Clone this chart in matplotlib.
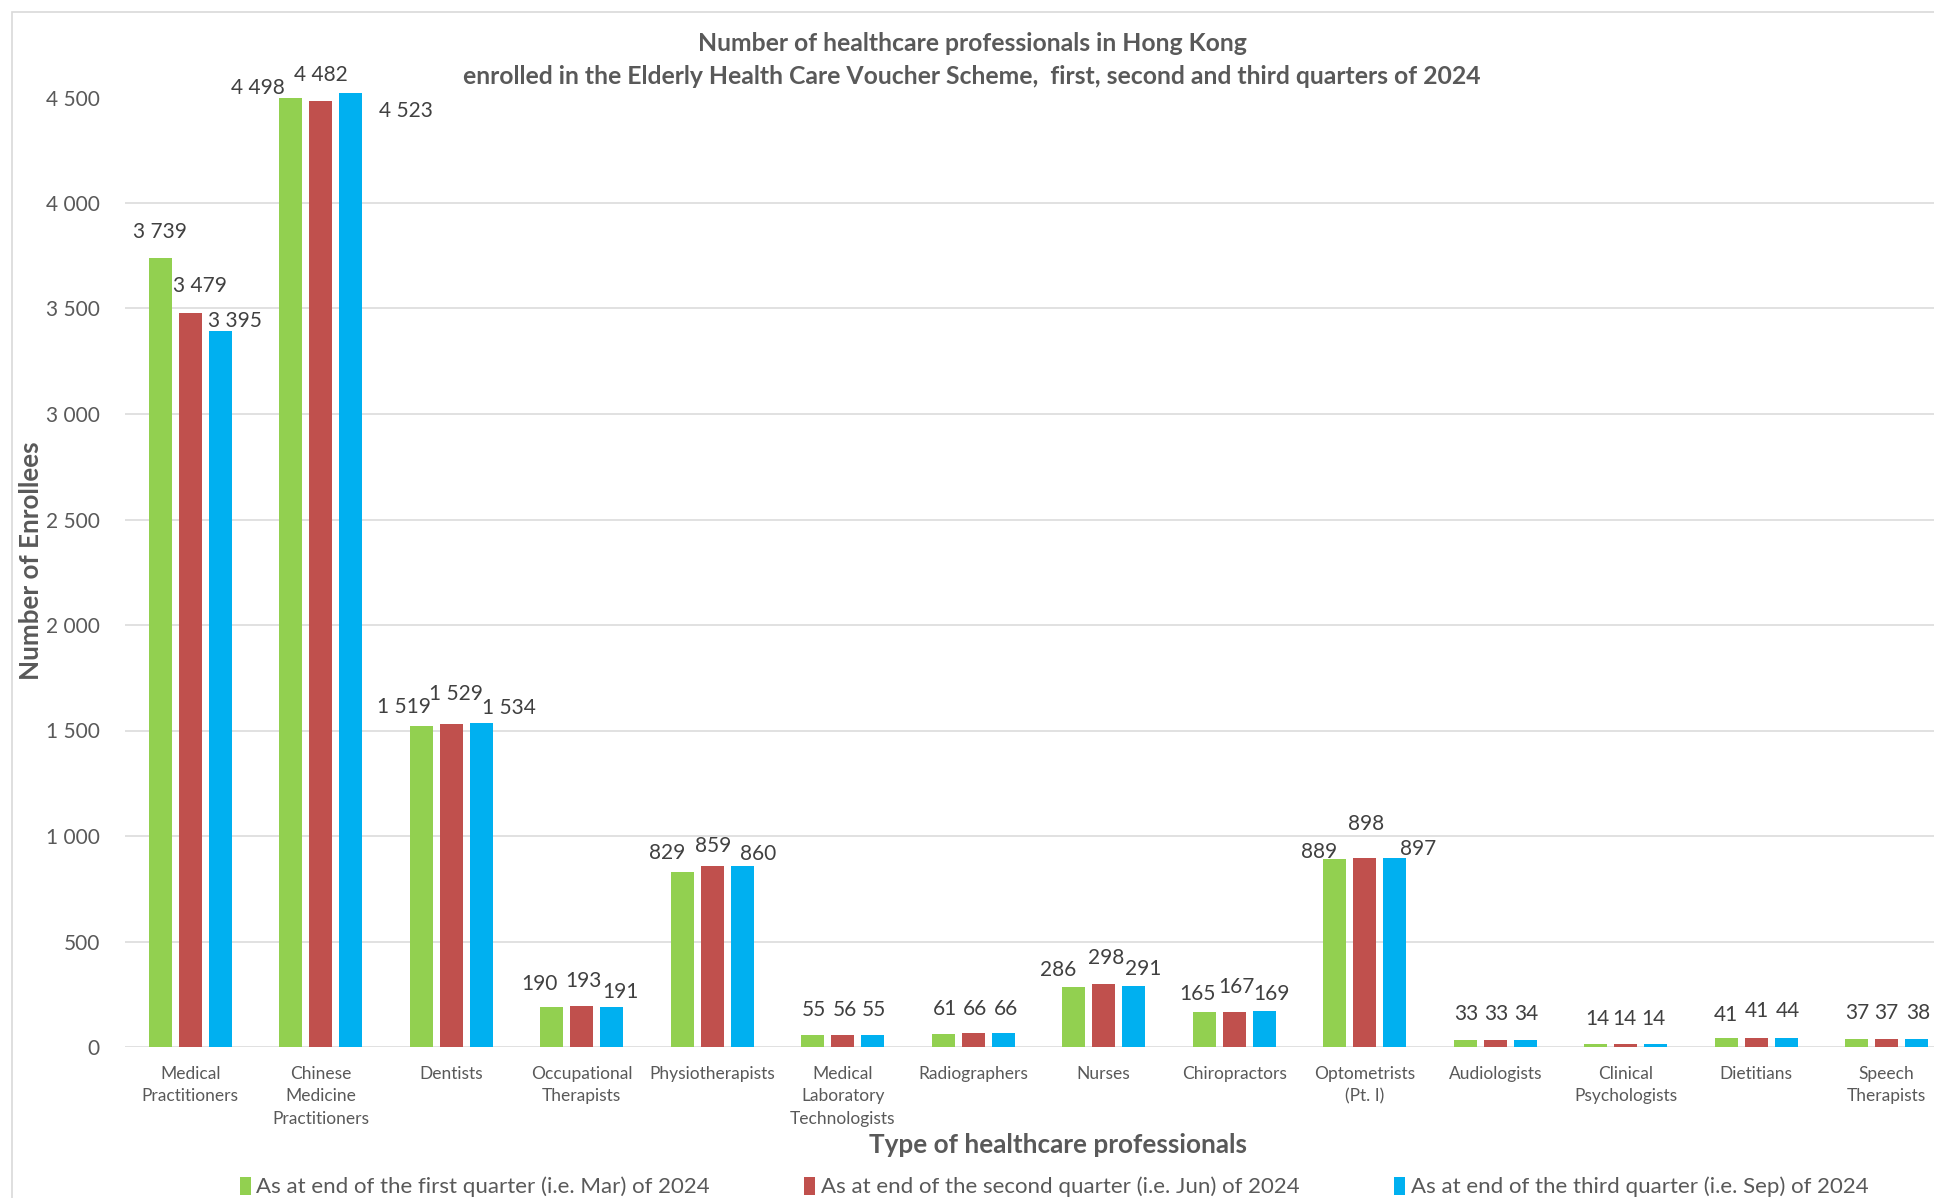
import matplotlib
matplotlib.use("Agg")
import matplotlib.pyplot as plt
from matplotlib.patches import Rectangle
import numpy as np

plt.rcParams['font.family'] = ['Lato', 'DejaVu Sans']

categories = ["Medical\nPractitioners", "Chinese\nMedicine\nPractitioners", "Dentists",
              "Occupational\nTherapists", "Physiotherapists", "Medical\nLaboratory\nTechnologists",
              "Radiographers", "Nurses", "Chiropractors", "Optometrists\n(Pt. I)",
              "Audiologists", "Clinical\nPsychologists", "Dietitians", "Speech\nTherapists"]
q1_mar = [3739, 4498, 1519, 190, 829, 55, 61, 286, 165, 889, 33, 14, 41, 37]
q2_jun = [3479, 4482, 1529, 193, 859, 56, 66, 298, 167, 898, 33, 14, 41, 37]
q3_sep = [3395, 4523, 1534, 191, 860, 55, 66, 291, 169, 897, 34, 14, 44, 38]
series_names = ["As at end of the first quarter (i.e. Mar) of 2024",
                "As at end of the second quarter (i.e. Jun) of 2024",
                "As at end of the third quarter (i.e. Sep) of 2024"]
yticks = [0, 500, 1000, 1500, 2000, 2500, 3000, 3500, 4000, 4500]

# label offsets (pixels: dx, dy from bar top) mimicking the manually placed labels
off_q1 = [(0, 26), (-33, 10), (-17, 19), (-12, 23), (-15, 19), (1, 25), (2, 25), (-16, 17),
          (-7, 18), (-16, 7), (1, 26), (2, 25), (0, 23), (1, 26)]
off_q2 = [(10, 27), (0, 26), (5, 30), (2, 25), (1, 20), (2, 25), (2, 24), (2, 26),
          (2, 25), (1, 34), (1, 26), (-1, 25), (1, 27), (0, 26)]
off_q3 = [(15, 10), (55, -18), (28, 15), (9, 15), (16, 12), (1, 25), (3, 24), (9, 17),
          (7, 17), (23, 9), (1, 26), (-2, 25), (2, 27), (1, 26)]

colors = ["#92d050", "#c0504d", "#00b0f0"]
grey = "#595959"

fig = plt.figure(figsize=(19.34, 11.98), dpi=100)
ax = fig.add_axes([125/1934, 151/1198, 1827/1934, (1100.5-151)/1198])

x = np.arange(len(categories))
step = 0.23
width = 0.176

def fmt(v):
    return f"{v:,}".replace(",", " ")

for i, (vals, offs) in enumerate(zip([q1_mar, q2_jun, q3_sep], [off_q1, off_q2, off_q3])):
    xs = x + (i - 1) * step
    ax.bar(xs, vals, width=width, color=colors[i], label=series_names[i],
           clip_on=False, zorder=3)
    for xi, v, (dx, dy) in zip(xs, vals, offs):
        ax.annotate(fmt(v), (xi, v), xytext=(dx, dy), textcoords='offset pixels',
                    ha='center', va='center', fontsize=15, color="#404040", zorder=4,
                    annotation_clip=False)

ax.set_xlim(-0.5, len(categories) - 0.5)
ax.set_ylim(0, 4500)
ax.set_yticks(yticks)
ax.set_yticklabels([fmt(t) for t in yticks], fontsize=15, color=grey)
ax.set_xticks(x)
ax.set_xticklabels(categories, fontsize=12.5, color=grey, linespacing=1.5)
ax.tick_params(axis='y', length=0, pad=18)
ax.tick_params(axis='x', length=0, pad=13.5)
for s in ax.spines.values():
    s.set_visible(False)
ax.yaxis.grid(True, color="#d9d9d9", linewidth=1.1, zorder=0)
ax.set_axisbelow(True)

fig.text(972/1934, 1 - 60/1198,
         "Number of healthcare professionals in Hong Kong\n"
         "enrolled in the Elderly Health Care Voucher Scheme,  first, second and third quarters of 2024",
         ha='center', va='center', fontsize=17.8, fontweight='bold', color=grey, linespacing=1.55)
fig.text(31/1934, 1 - 561/1198, "Number of Enrollees", rotation=90, ha='center', va='center',
         fontsize=18.7, fontweight='bold', color=grey)
fig.text(1058/1934, 1 - 1145/1198, "Type of healthcare professionals", ha='center', va='center',
         fontsize=18.8, fontweight='bold', color=grey)

leg = fig.legend(loc='center', bbox_to_anchor=(1054/1934, 11/1198), ncol=3, frameon=False,
                 fontsize=16, handlelength=0.5, handleheight=0.9, handletextpad=0.25,
                 columnspacing=4.25, labelcolor=grey)

fig.patches.append(Rectangle((12/1934, -0.2), 1.5, 1.2 - 12/1198, transform=fig.transFigure,
                             fill=False, edgecolor="#d9d9d9", linewidth=1.2))

fig.savefig("out.png", dpi=100)
